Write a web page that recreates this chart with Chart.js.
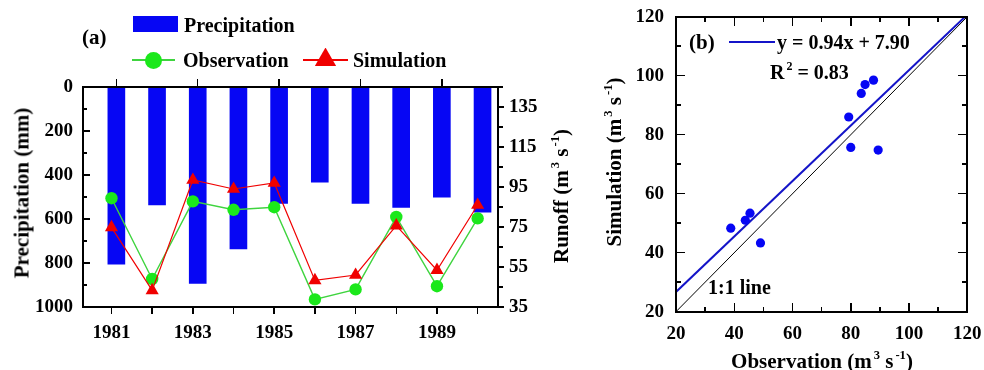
<!DOCTYPE html>
<html>
<head>
<meta charset="utf-8">
<script src="https://cdn.jsdelivr.net/npm/chart.js@4/dist/chart.umd.min.js"></script>
<style>
  html, body { margin: 0; padding: 0; background: #fff; }
  #wrap { position: relative; width: 984px; height: 370px; overflow: hidden;
          font-family: "Liberation Serif", "Times New Roman", serif; font-weight: bold; color: #000; }
  canvas { position: absolute; top: 0; }
  #chartA { left: 0; }
  #chartB { left: 590px; }
  .t { position: absolute; white-space: nowrap; line-height: 1; }
  .h { transform: translate(0, -50%); }
  .c { transform: translate(-50%, -50%); }
  .v { transform: translate(-50%, -50%) rotate(-90deg); }
  sup { font-size: 0.6em; line-height: 0; position: relative; top: -0.75em; vertical-align: baseline; margin-left: 2px; }
  .sym { position: absolute; }
  .tri { clip-path: polygon(50% 0, 100% 100%, 0 100%); }
  .box { position: absolute; border: 2px solid #000; box-sizing: border-box; background: transparent; }
  .ln { position: absolute; background: #000; }
</style>
</head>
<body>
<div id="wrap">
  <canvas id="chartA" width="590" height="370" style="width:590px;height:370px"></canvas>
  <canvas id="chartB" width="394" height="370" style="width:394px;height:370px"></canvas>

  <!-- legend of panel (a) -->
  <div class="sym" style="left:133px;top:16px;width:45px;height:16px;background:#0606f4"></div>
  <div class="sym" style="left:132px;top:59.3px;width:43px;height:1.4px;background:#3fd43f"></div>
  <div class="sym" style="left:145px;top:51.5px;width:17px;height:17px;border-radius:50%;background:#1be81b"></div>
  <div class="sym" style="left:303px;top:59.4px;width:45px;height:1.2px;background:#f00000"></div>
  <div class="sym tri" style="left:314.7px;top:47.5px;width:21.6px;height:18.8px;background:#f00000"></div>

  <div class="t h" style="left:82px;top:37px;font-size:21px">(a)</div>
  <div class="t h" style="left:184px;top:25px;font-size:20px">Precipitation</div>
  <div class="t h" style="left:183px;top:60px;font-size:20px">Observation</div>
  <div class="t h" style="left:353px;top:60px;font-size:20px">Simulation</div>
  <div class="t v" style="left:22px;top:193px;font-size:21px">Precipitation (mm)</div>
  <div class="t v" style="left:561px;top:196px;font-size:21px">Runoff (m<sup>3</sup> s<sup>-1</sup>)</div>

  <!-- legend and notes of panel (b) -->
  <div class="sym" style="left:729px;top:41px;width:46px;height:2px;background:#1414c8"></div>
  <div class="t h" style="left:689px;top:42px;font-size:21px">(b)</div>
  <div class="t h" style="left:777px;top:42px;font-size:20px">y = 0.94x + 7.90</div>
  <div class="t h" style="left:770px;top:72px;font-size:20px">R<sup>2</sup> = 0.83</div>
  <div class="t h" style="left:708px;top:287px;font-size:20px">1:1 line</div>
  <div class="t v" style="left:614px;top:162px;font-size:21px">Simulation (m<sup>3</sup> s<sup>-1</sup>)</div>
  <div class="t c" style="left:822px;top:361px;font-size:21px">Observation (m<sup>3</sup> s<sup>-1</sup>)</div>
</div>

<script>
// ---- data ----
const years = [1981, 1982, 1983, 1984, 1985, 1986, 1987, 1988, 1989, 1990];
const precipitation = [805, 536, 893, 736, 529, 433, 529, 547, 501, 569];      // mm
const observation = [89.4, 49.0, 87.8, 83.6, 84.9, 38.8, 43.8, 80.0, 45.4, 79.3]; // m3/s
const simulation = [74.8, 43.3, 98.5, 94.0, 97.0, 48.3, 51.0, 75.7, 53.4, 86.0];  // m3/s

const yearTicks = [1981, 1983, 1985, 1987, 1989];
const precipTicks = [0, 200, 400, 600, 800, 1000];
const runoffTicks = [35, 55, 75, 95, 115, 135];
const scatterTicks = [20, 40, 60, 80, 100, 120];

const fitSlope = 0.94;
const fitIntercept = 7.90;

// ---- styling ----
const FONT = { family: '"Liberation Serif", "Times New Roman", serif', weight: 'bold', size: 19 };
const BLUE = '#0606f4';
const GREEN = '#1be81b';
const GREEN_LINE = '#3fd43f';
const RED = '#f00000';

function midpoints(values) {
  const out = [];
  for (let i = 0; i < values.length - 1; i++) out.push((values[i] + values[i + 1]) / 2);
  return out;
}
const showLabel = v => String(v);
const noLabel = () => '';

// A linear axis with a fixed tick list and a fixed thickness, labels only.
function axis({ position, min, max, values, label, size, padding = 0, reverse = false }) {
  const horizontal = position === 'top' || position === 'bottom';
  return {
    type: 'linear', position, min, max, reverse, offset: false,
    afterBuildTicks: s => { s.ticks = values.map(v => ({ value: v })); },
    afterFit: s => {
      if (horizontal) s.height = size; else s.width = size;
      s.paddingLeft = 0; s.paddingRight = 0; s.paddingTop = 0; s.paddingBottom = 0;
    },
    ticks: { display: true, font: FONT, color: '#000', padding, autoSkip: false, maxRotation: 0, minRotation: 0, callback: label },
    grid: { display: false, drawTicks: false, offset: false },
    border: { display: false }
  };
}

// ---- panel (a): precipitation bars and runoff lines ----
const chartA = new Chart(document.getElementById('chartA'), {
  type: 'bar',
  data: {
    datasets: [
      {
        type: 'bar', label: 'Precipitation',
        data: years.map((y, i) => ({ x: y, y: precipitation[i] })),
        xAxisID: 'xBar', yAxisID: 'yP',
        backgroundColor: BLUE, borderWidth: 0,
        grouped: false, barThickness: 17, maxBarThickness: 17, order: 3
      },
      {
        type: 'line', label: 'Observation',
        data: years.map((y, i) => ({ x: y, y: observation[i] })),
        xAxisID: 'x', yAxisID: 'yR',
        borderColor: GREEN_LINE, borderWidth: 1.4,
        pointRadius: 6.2, pointBackgroundColor: GREEN, pointBorderWidth: 0,
        tension: 0, order: 2
      },
      {
        type: 'line', label: 'Simulation',
        data: years.map((y, i) => ({ x: y, y: simulation[i] })),
        xAxisID: 'x', yAxisID: 'yR',
        borderColor: RED, borderWidth: 1.2,
        pointStyle: 'triangle', pointRadius: 7.6, pointBackgroundColor: RED, pointBorderWidth: 0,
        tension: 0, order: 1
      }
    ]
  },
  options: {
    responsive: false, animation: false,
    layout: { padding: 0 },
    plugins: { legend: { display: false }, tooltip: { enabled: false } },
    scales: {
      x:    axis({ position: 'bottom', min: 1980.3, max: 1990.5, values: yearTicks, label: showLabel, size: 63, padding: 15 }),
      xBar: axis({ position: 'top', min: 1980.18, max: 1990.38, values: yearTicks, label: noLabel, size: 87 }),
      yP:   axis({ position: 'left', min: 0, max: 1000, reverse: true, values: precipTicks, label: showLabel, size: 83, padding: 10 }),
      yR:   axis({ position: 'right', min: 35, max: 145, values: runoffTicks, label: showLabel, size: 92, padding: 11 })
    }
  }
});

// ---- panel (b): simulated vs observed runoff ----
const fitLine = [20, 120].map(x => ({ x: x, y: fitSlope * x + fitIntercept }));
const oneToOne = [20, 120].map(x => ({ x: x, y: x }));

const chartB = new Chart(document.getElementById('chartB'), {
  type: 'scatter',
  data: {
    datasets: [
      {
        label: 'Observed vs simulated',
        data: observation.map((o, i) => ({ x: o, y: simulation[i] })),
        pointRadius: 4.6, pointBackgroundColor: BLUE, pointBorderWidth: 0, order: 1
      },
      {
        type: 'line', label: 'Fit', data: fitLine,
        borderColor: '#1414c8', borderWidth: 2, pointRadius: 0, order: 2
      },
      {
        type: 'line', label: '1:1', data: oneToOne,
        borderColor: '#000', borderWidth: 1, pointRadius: 0, order: 3
      }
    ]
  },
  options: {
    responsive: false, animation: false,
    layout: { padding: { top: 16.7, right: 16.7, left: 0, bottom: 0 } },
    plugins: { legend: { display: false }, tooltip: { enabled: false } },
    scales: {
      x: axis({ position: 'bottom', min: 20, max: 120, values: scatterTicks, label: showLabel, size: 58.3, padding: 11 }),
      y: axis({ position: 'left', min: 20, max: 120, values: scatterTicks, label: showLabel, size: 86, padding: 12 })
    }
  }
});

// ---- plot frames and tick marks, placed from each chart's scales ----
const wrap = document.getElementById('wrap');
function rule(x, y, w, h) {
  const d = document.createElement('div');
  d.className = 'ln';
  d.style.left = x + 'px';
  d.style.top = y + 'px';
  d.style.width = w + 'px';
  d.style.height = h + 'px';
  wrap.appendChild(d);
}
function drawFrame(dx, a) {
  const d = document.createElement('div');
  d.className = 'box';
  d.style.left = (dx + a.left - 1) + 'px';
  d.style.top = (a.top - 1) + 'px';
  d.style.width = (a.right - a.left + 2) + 'px';
  d.style.height = (a.bottom - a.top + 2) + 'px';
  wrap.appendChild(d);
}
// dir > 0: marks extend to the right / downward from the edge
function tickMarksY(dx, scale, x, dir, values, len) {
  values.forEach(v => {
    const y = scale.getPixelForValue(v);
    rule(dir > 0 ? dx + x : dx + x - len, y - 0.75, len, 1.5);
  });
}
function tickMarksX(dx, scale, y, dir, values, len) {
  values.forEach(v => {
    const x = dx + scale.getPixelForValue(v);
    rule(x - 0.75, dir > 0 ? y : y - len, 1.5, len);
  });
}

(function () {
  const a = chartA.chartArea, s = chartA.scales;
  drawFrame(0, a);
  tickMarksY(0, s.yP, a.left, 1, precipTicks, 7);
  tickMarksY(0, s.yP, a.left, 1, midpoints(precipTicks), 4);
  tickMarksY(0, s.yR, a.right, 1, runoffTicks, 6);
  tickMarksY(0, s.yR, a.right, 1, midpoints(runoffTicks).concat([145]), 5);
  tickMarksX(0, s.x, a.bottom, 1, years, 7);
  tickMarksX(0, s.xBar, a.top, -1, yearTicks, 8);
})();

(function () {
  const dx = 590;
  const a = chartB.chartArea, s = chartB.scales;
  const minor = midpoints(scatterTicks);
  drawFrame(dx, a);
  tickMarksY(dx, s.y, a.left, 1, scatterTicks, 9);
  tickMarksY(dx, s.y, a.left, 1, minor, 5);
  tickMarksY(dx, s.y, a.right, -1, scatterTicks, 9);
  tickMarksY(dx, s.y, a.right, -1, minor, 5);
  tickMarksX(dx, s.x, a.bottom, -1, scatterTicks, 9);
  tickMarksX(dx, s.x, a.bottom, -1, minor, 5);
  tickMarksX(dx, s.x, a.top, 1, scatterTicks, 9);
  tickMarksX(dx, s.x, a.top, 1, minor, 5);
})();
</script>
</body>
</html>
